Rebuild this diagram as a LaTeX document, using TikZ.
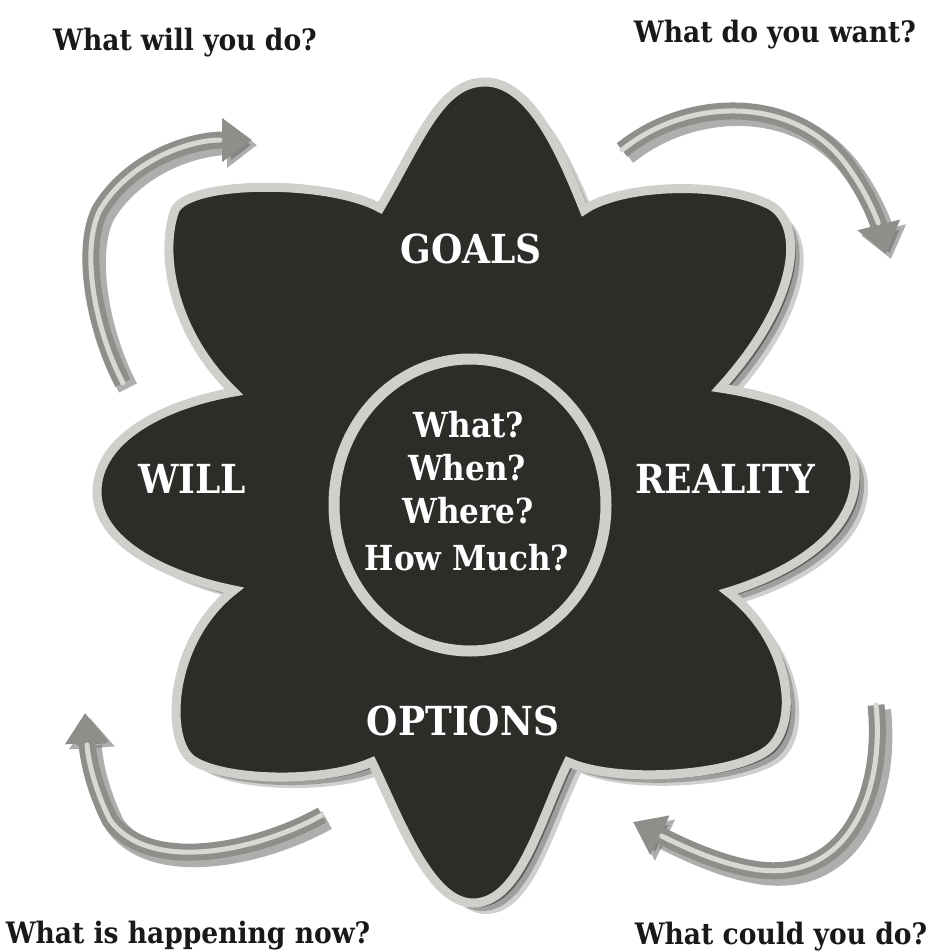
\documentclass[tikz,border=0pt]{standalone}
\usepackage{fontspec}
\usepackage{tikz}
\usetikzlibrary{arrows.meta}
\setmainfont{DejaVu Serif}
\newfontfamily\slab{DejaVu Serif Condensed}

\definecolor{petal}{HTML}{2D2C29}
\definecolor{rim}{HTML}{CFCFCB}
\definecolor{halo}{HTML}{5E5E5C}
\definecolor{loopgray}{HTML}{8E8E8B}
\definecolor{loopshine}{HTML}{D8D8D4}

\newcommand{\grwflower}{(485,-82) .. controls (530,-82) and (560,-150) .. (584,-210)
 .. controls (620,-185) and (720,-180) .. (770,-205)
 .. controls (805,-225) and (800,-300) .. (720,-388)
 .. controls (800,-400) and (858,-430) .. (855,-480)
 .. controls (853,-530) and (800,-570) .. (728,-592)
 .. controls (790,-640) and (800,-720) .. (770,-748)
 .. controls (740,-775) and (620,-785) .. (568,-762)
 .. controls (540,-820) and (520,-903) .. (473,-903)
 .. controls (430,-903) and (400,-820) .. (372,-762)
 .. controls (320,-785) and (215,-780) .. (190,-758)
 .. controls (165,-735) and (170,-640) .. (234,-590)
 .. controls (160,-575) and (97,-540) .. (97,-492)
 .. controls (97,-440) and (160,-405) .. (234,-392)
 .. controls (170,-330) and (160,-250) .. (175,-210)
 .. controls (190,-180) and (330,-180) .. (380,-208)
 .. controls (420,-140) and (440,-82) .. (485,-82) -- cycle}

\newcommand{\grwloops}[1]{%
 \draw[#1] (tlTail) .. controls (95,-330) and (80,-250) .. (100,-210)
  .. controls (130,-160) and (190,-140) .. (tlHead);
 \draw[#1] (trTail) .. controls (690,-95) and (800,-95) .. (850,-170)
  .. controls (868,-195) and (878,-222) .. (trHead);
 \draw[#1] (brTail) .. controls (885,-790) and (850,-880) .. (760,-870)
  .. controls (720,-865) and (680,-845) .. (brHead);
 \draw[#1] (blTail) .. controls (260,-850) and (150,-875) .. (110,-820)
  .. controls (95,-790) and (88,-760) .. (blHead);
}

\tikzset{
 ask/.style={anchor=base,text=black!90,font=\slab\bfseries\fontsize{29.5}{34}\selectfont},
 stage/.style={anchor=base,text=white,font=\slab\bfseries\fontsize{40}{44}\selectfont},
 probe/.style={anchor=base,text=white,font=\slab\bfseries\fontsize{34.5}{38}\selectfont},
 loopshade/.style={line width=20pt,draw=halo,opacity=0.5,-{Triangle[length=30pt,width=44pt]}},
 loopbody/.style={line width=17pt,draw=loopgray,-{Triangle[length=30pt,width=42pt]}},
 loopshine/.style={line width=5pt,draw=loopshine,shorten >=32pt,line cap=round},
}

\begin{document}
\begin{tikzpicture}[x=1pt,y=1pt]
\useasboundingbox (0,-951) rectangle (938,0);
\path[fill=white] (0,-951) rectangle (938,0);
% loop ends:
\coordinate (tlTail) at (123,-383);
\coordinate (tlHead) at (252,-140);
\coordinate (trTail) at (622,-150);
\coordinate (trHead) at (886,-254);
\coordinate (brTail) at (876,-705);
\coordinate (brHead) at (633,-822);
\coordinate (blTail) at (322,-815);
\coordinate (blHead) at (85,-713);
% loops:
\begin{scope}[transform canvas={shift={(5pt,-5pt)}}]
\grwloops{loopshade}
\end{scope}
\grwloops{loopbody}
\grwloops{loopshine}
% flower shadow:
\begin{scope}[shift={(13,-11)}]
\path[fill=halo!30] \grwflower;
\end{scope}
\begin{scope}[shift={(9,-8)}]
\path[fill=halo!60] \grwflower;
\end{scope}
\begin{scope}[shift={(5,-4)}]
\path[fill=halo] \grwflower;
\end{scope}
% flower:
\path[draw=rim,line width=9pt,fill=petal] \grwflower;
\path[draw=rim,line width=11pt] (470,-505) ellipse [x radius=136,y radius=146];
% labels:
\node[stage] (goals) at (471,-263) {GOALS};
\node[stage] (will) at (192,-493) {WILL};
\node[stage] (reality) at (725,-493) {REALITY};
\node[stage] (options) at (463,-735) {OPTIONS};
\node[probe] (what) at (469,-437) {What?};
\node[probe] (when) at (467,-480) {When?};
\node[probe] (where) at (468,-523) {Where?};
\node[probe] (howmuch) at (467,-570) {How Much?};
\node[ask] (willq) at (185,-50) {What will you do?};
\node[ask] (wantq) at (775,-42) {What do you want?};
\node[ask] (nowq) at (188,-943) {What is happening now?};
\node[ask] (couldq) at (781,-944) {What could you do?};
\end{tikzpicture}
\end{document}
